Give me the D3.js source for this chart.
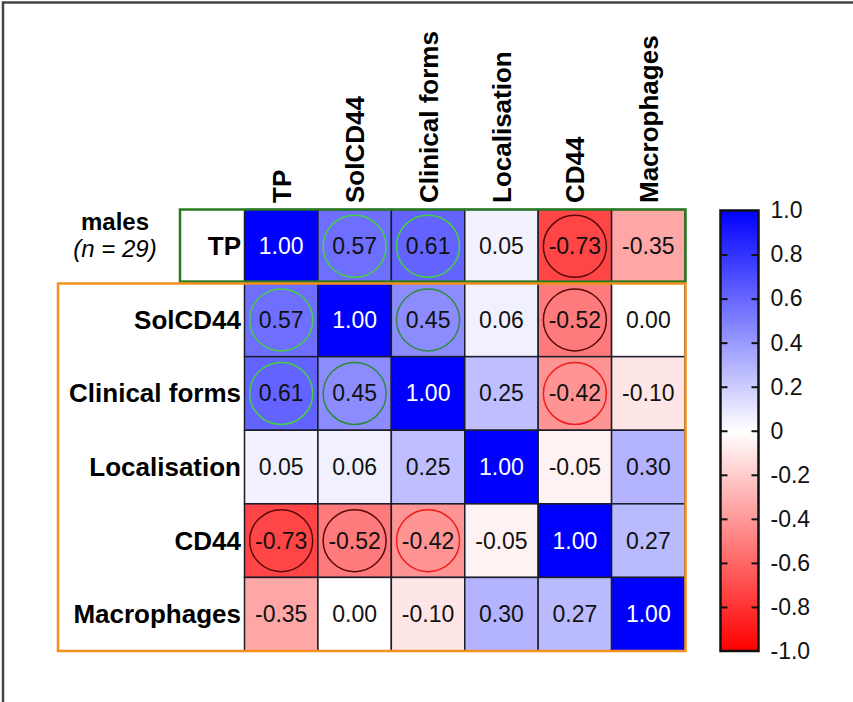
<!DOCTYPE html>
<html>
<head>
<meta charset="utf-8">
<script src="https://cdn.jsdelivr.net/npm/d3@7"></script>
<style>
  body { margin: 0; background: #fff; }
  svg { display: block; font-family: "Liberation Sans", Arial, sans-serif; }
</style>
</head>
<body>
<script>
const width = 853;
const height = 702;

const variables = ["TP", "SolCD44", "Clinical forms", "Localisation", "CD44", "Macrophages"];

// correlation matrix, row by row
const rowTP = [1.00, 0.57, 0.61, 0.05, -0.73, -0.35];
const rowSolCD44 = [0.57, 1.00, 0.45, 0.06, -0.52, 0.00];
const rowClinical = [0.61, 0.45, 1.00, 0.25, -0.42, -0.10];
const rowLocalisation = [0.05, 0.06, 0.25, 1.00, -0.05, 0.30];
const rowCD44 = [-0.73, -0.52, -0.42, -0.05, 1.00, 0.27];
const rowMacrophages = [-0.35, 0.00, -0.10, 0.30, 0.27, 1.00];
const matrix = [rowTP, rowSolCD44, rowClinical, rowLocalisation, rowCD44, rowMacrophages];

// circled cells: [row, col, ring colour]
const rings = [
  [0, 1, "#44d044"], [0, 2, "#44d044"], [0, 4, "#5a0a0a"],
  [1, 0, "#44d044"], [1, 2, "#2f8a3a"], [1, 4, "#5a0a0a"],
  [2, 0, "#44d044"], [2, 1, "#2f8a3a"], [2, 4, "#ee1c1c"],
  [4, 0, "#5a0a0a"], [4, 1, "#5a0a0a"], [4, 2, "#ee1c1c"]
];

const legendTicks = [1.0, 0.8, 0.6, 0.4, 0.2, 0, -0.2, -0.4, -0.6, -0.8, -1.0];
const legendLabels = ["1.0", "0.8", "0.6", "0.4", "0.2", "0", "-0.2", "-0.4", "-0.6", "-0.8", "-1.0"];

const svg = d3.select("body").append("svg")
  .attr("width", width)
  .attr("height", height);

// page frame (top + left edges)
svg.append("path")
  .attr("d", `M3,${height} L3,2.5 L${width},2.5`)
  .attr("fill", "none")
  .attr("stroke", "#444")
  .attr("stroke-width", 2.5);

const x = d3.scaleBand().domain(d3.range(6)).range([244.5, 685]);
const y = d3.scaleBand().domain(d3.range(6)).range([209.5, 651]);

const color = d3.scaleLinear()
  .domain([-1, 0, 1])
  .range(["#ff0000", "#ffffff", "#0000ff"]);

const cells = [];
matrix.forEach((row, i) => row.forEach((v, j) => cells.push({ i, j, v })));

svg.append("g")
  .selectAll("rect")
  .data(cells)
  .join("rect")
  .attr("x", (d) => x(d.j))
  .attr("y", (d) => y(d.i))
  .attr("width", x.bandwidth())
  .attr("height", y.bandwidth())
  .attr("fill", (d) => color(d.v))
  .attr("stroke", "#1c1c2a")
  .attr("stroke-width", 1.5);

svg.append("g")
  .selectAll("ellipse")
  .data(rings)
  .join("ellipse")
  .attr("cx", (d) => x(d[1]) + x.bandwidth() / 2)
  .attr("cy", (d) => y(d[0]) + y.bandwidth() / 2)
  .attr("rx", 31.5)
  .attr("ry", 31)
  .attr("fill", "none")
  .attr("stroke", (d) => d[2])
  .attr("stroke-width", 1.5);

svg.append("g")
  .selectAll("text")
  .data(cells)
  .join("text")
  .attr("x", (d) => x(d.j) + x.bandwidth() / 2)
  .attr("y", (d) => y(d.i) + y.bandwidth() / 2 + 8)
  .attr("text-anchor", "middle")
  .attr("font-size", 23)
  .attr("fill", (d) => (d.v === 1 ? "#fff" : "#111"))
  .text((d) => d.v.toFixed(2));

// row labels
svg.append("g")
  .selectAll("text")
  .data(variables)
  .join("text")
  .attr("x", 241)
  .attr("y", (d, i) => y(i) + y.bandwidth() / 2 + 9)
  .attr("text-anchor", "end")
  .attr("font-size", 26)
  .attr("font-weight", "bold")
  .text((d) => d);

// column labels
svg.append("g")
  .selectAll("text")
  .data(variables)
  .join("text")
  .attr("transform", (d, i) => `translate(${x(i) + x.bandwidth() / 2 + 9.5},203) rotate(-90)`)
  .attr("font-size", 26)
  .attr("font-weight", "bold")
  .text((d) => d);

// group frames
svg.append("rect")
  .attr("x", 180).attr("y", 209.5)
  .attr("width", 505.5).attr("height", y.bandwidth() - 1.5)
  .attr("fill", "none")
  .attr("stroke", "#2a7a22")
  .attr("stroke-width", 2.5);

svg.append("rect")
  .attr("x", 58).attr("y", 283.5)
  .attr("width", 627.5).attr("height", 367.5)
  .attr("fill", "none")
  .attr("stroke", "#f39020")
  .attr("stroke-width", 2.5);

svg.append("text")
  .attr("x", 115).attr("y", 230)
  .attr("text-anchor", "middle")
  .attr("font-size", 24)
  .attr("font-weight", "bold")
  .text("males");

const nText = svg.append("text")
  .attr("x", 115).attr("y", 257)
  .attr("text-anchor", "middle")
  .attr("font-size", 24)
  .attr("font-style", "italic");
nText.append("tspan").text("(");
nText.append("tspan").text("n");
nText.append("tspan").text(" = 29)");

// colour bar
const barX = 720.5;
const barW = 38;
const c = d3.scaleLinear().domain([-1, 1]).range([651, 210.5]);

const grad = svg.append("defs").append("linearGradient")
  .attr("id", "grad")
  .attr("x1", 0).attr("y1", 1).attr("x2", 0).attr("y2", 0);
grad.selectAll("stop")
  .data([-1, 0, 1])
  .join("stop")
  .attr("offset", (d) => (d + 1) / 2)
  .attr("stop-color", (d) => color(d));

svg.append("rect")
  .attr("x", barX).attr("y", c(1))
  .attr("width", barW).attr("height", c(-1) - c(1))
  .attr("fill", "url(#grad)")
  .attr("stroke", "#111")
  .attr("stroke-width", 2.5);

const inner = legendTicks.slice(1, -1);

svg.append("g")
  .attr("transform", `translate(${barX},0)`)
  .call(d3.axisRight(c).tickValues(inner).tickSize(7).tickFormat(""))
  .call((g) => g.select(".domain").remove())
  .call((g) => g.selectAll("line").attr("stroke", "#111").attr("stroke-width", 2));

svg.append("g")
  .attr("transform", `translate(${barX + barW},0)`)
  .call(d3.axisLeft(c).tickValues(inner).tickSize(7).tickFormat(""))
  .call((g) => g.select(".domain").remove())
  .call((g) => g.selectAll("line").attr("stroke", "#111").attr("stroke-width", 2));

svg.append("g")
  .attr("transform", `translate(${barX + barW},0)`)
  .call(d3.axisRight(c).tickValues(legendTicks).tickSize(0).tickPadding(12)
    .tickFormat((d, i) => legendLabels[i]))
  .call((g) => g.select(".domain").remove())
  .call((g) => g.selectAll("text")
    .attr("font-size", 23)
    .attr("fill", "#111")
    .attr("font-family", "'Liberation Sans', Arial, sans-serif"));
</script>
</body>
</html>
